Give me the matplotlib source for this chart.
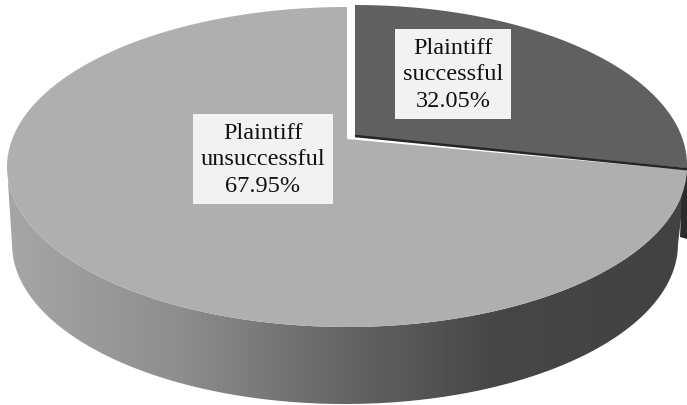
import matplotlib
matplotlib.use('Agg')
import matplotlib.pyplot as plt
import numpy as np
from matplotlib.colors import LinearSegmentedColormap
from matplotlib.patches import PathPatch
from matplotlib.path import Path

labels = ['Plaintiff\nsuccessful', 'Plaintiff\nunsuccessful']
shares = [32.05, 67.95]
slice_colors = ['#606060', '#afafaf']

W, H = 687, 406
# tilted view squeezes the front slice edge towards the horizontal
SWEEP_SQUASH = 0.79


def ellipse_points(cx, cy, rx, ry, start, end, n=300):
    t = np.radians(np.linspace(start, end, n))
    return np.column_stack([cx + rx * np.cos(t), cy - ry * np.sin(t)])


fig = plt.figure(figsize=(W / 100, H / 100), dpi=100)
ax = fig.add_axes([0, 0, 1, 1])
ax.set_xlim(0, W)
ax.set_ylim(H, 0)
ax.axis('off')

edge_angle = 90 - 360 * shares[0] / 100 * SWEEP_SQUASH

# side wall with the horizontal shading
top_rim = ellipse_points(347, 168, 340, 160, 180, 360)
bottom_rim = ellipse_points(345, 245, 333, 160, 360, 180)
wall = np.vstack([top_rim, bottom_rim])
shade = LinearSegmentedColormap.from_list('wall', [
    (0.0, '#a6a6a6'), (0.25, '#8e8e8e'), (0.5, '#646464'), (0.72, '#464646'), (1.0, '#424242')])
gradient = np.linspace(0, 1, 256).reshape(1, -1)
img = ax.imshow(gradient, cmap=shade, extent=[8, 687, H, 0], aspect='auto', zorder=1)
img.set_clip_path(PathPatch(Path(wall), transform=ax.transData))
ax.set_xlim(0, W)
ax.set_ylim(H, 0)

# sliver of the cut face at the right end
ax.fill([682, 687, 687, 680], [190, 172, 240, 238], color='#2b2b2b', lw=0, zorder=1.5)

# dark slice, pulled out a little
rim = ellipse_points(355, 166, 332, 160, 90, edge_angle)
poly = np.vstack([[355, 137], rim])
ax.fill(poly[:, 0], poly[:, 1], color=slice_colors[0], lw=0, zorder=2)

# big slice
rim = ellipse_points(347, 168, 340, 160, 90, 360 + edge_angle)
poly = np.vstack([[347, 140], rim])
ax.fill(poly[:, 0], poly[:, 1], color=slice_colors[1], lw=0, zorder=3)
ax.plot([355, rim[-1, 0]], [137, rim[-1, 1] - 1], color='#262626', lw=1.8, zorder=4,
        solid_capstyle='butt')

box = dict(facecolor='#f2f2f2', edgecolor='none', pad=5.5)
for label, share, pos in zip(labels, shares, [(453, 75), (263, 160)]):
    ax.text(pos[0], pos[1], f'{label}\n{share:.2f}%', ha='center', va='center', fontsize=17.5,
            family='Liberation Serif', color='#111111', linespacing=1.36, bbox=box, zorder=5)

fig.savefig('out.png', dpi=100)
